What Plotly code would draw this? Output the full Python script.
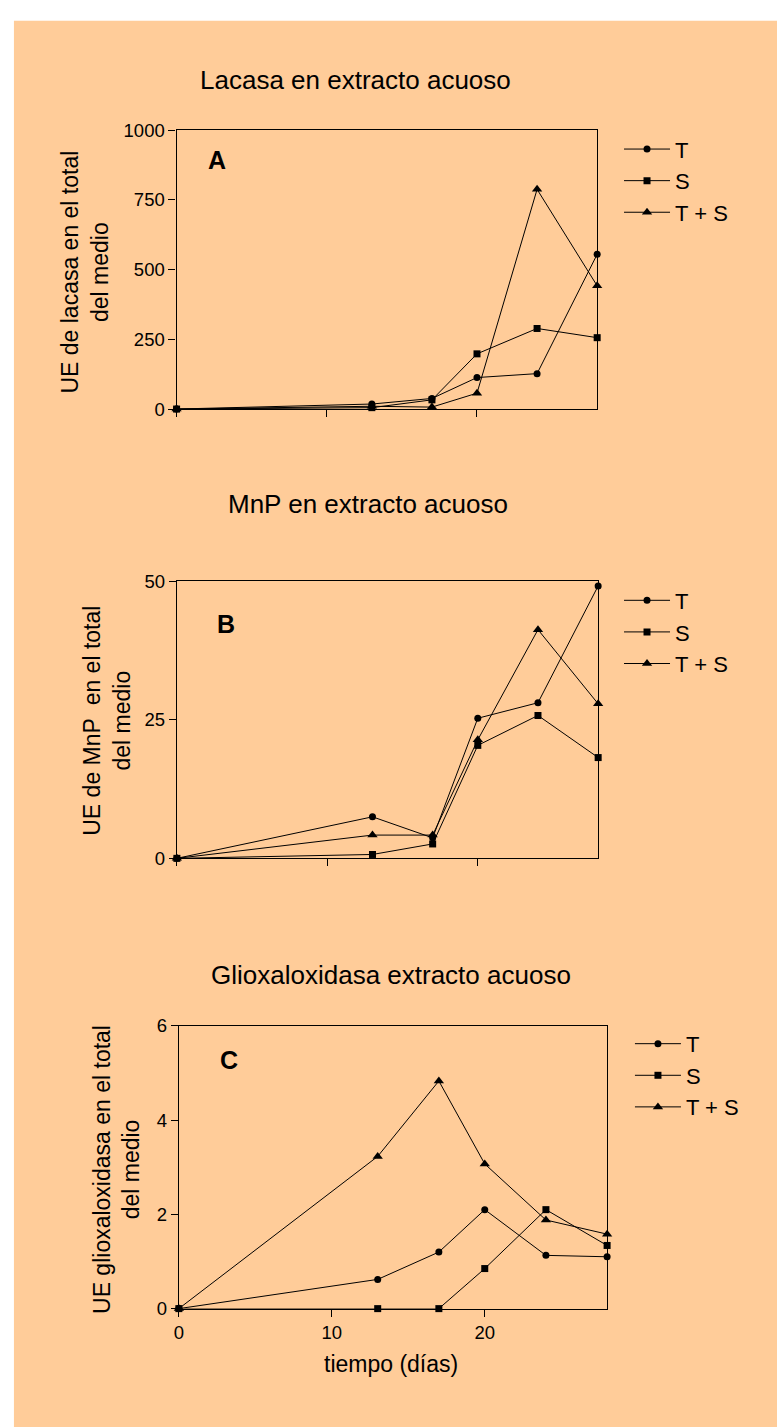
import plotly.graph_objects as go

W, H = 777, 1427
FONT = "Liberation Sans, Arial, sans-serif"
PEACH = "#FFCC99"

# ---------------- data ----------------
days = [0, 13, 17, 20, 24, 28]
x_ticks = [0, 10, 20]

series_names = ["T", "S", "T + S"]

lacasa_T = [0, 18, 38, 113, 127, 555]
lacasa_S = [0, 5, 33, 198, 289, 256]
lacasa_TS = [0, 10, 7, 57, 788, 442]

mnp_T = [0, 7.5, 3.7, 25.3, 28.1, 49.2]
mnp_S = [0, 0.7, 2.6, 20.4, 25.8, 18.2]
mnp_TS = [0, 4.2, 4.2, 21.4, 41.3, 27.9]

glox_T = [0, 0.62, 1.2, 2.1, 1.13, 1.1]
glox_S = [0, 0, 0, 0.85, 2.1, 1.34]
glox_TS = [0, 3.23, 4.83, 3.07, 1.88, 1.58]

lacasa_yticks = [0, 250, 500, 750, 1000]
mnp_yticks = [0, 25, 50]
glox_yticks = [0, 2, 4, 6]

panel_titles = ["Lacasa en extracto acuoso", "MnP en extracto acuoso",
                "Glioxaloxidasa extracto acuoso"]
panel_letters = ["A", "B", "C"]
y_titles = ["UE de lacasa en el total<br>del medio",
            "UE de MnP\u00a0 en el total<br>del medio",
            "UE glioxaloxidasa en el total<br>del medio"]
x_title = "tiempo (días)"


def fx(p):
    return p / W


def fy(p):
    return 1 - p / H


# pixel boxes of the three panels (left, right, top, bottom)
boxes = [(172.7, 596, 121, 404), (173, 597, 579, 860), (175, 606, 1030, 1317)]
yranges = [[0, 1000], [0, 50], [0, 6]]
ytickss = [lacasa_yticks, mnp_yticks, glox_yticks]
data = [[lacasa_T, lacasa_S, lacasa_TS], [mnp_T, mnp_S, mnp_TS], [glox_T, glox_S, glox_TS]]
symbols = [("circle", 7), ("square", 7), ("triangle-up", 9)]

fig = go.Figure()
layout = dict(width=W, height=H, autosize=False,
              margin=dict(l=0, r=0, t=0, b=0),
              paper_bgcolor="white", plot_bgcolor="rgba(0,0,0,0)",
              font=dict(family=FONT, color="black"),
              showlegend=True)

legend_pos = [(618, 119), (618, 577), (629, 1027)]

for i in range(3):
    sfx = "" if i == 0 else str(i + 1)
    l, r, t, b = boxes[i]
    for j, name in enumerate(series_names):
        sym, sz = symbols[j]
        fig.add_trace(go.Scatter(
            x=days, y=data[i][j], name=name, mode="lines+markers",
            line=dict(color="black", width=1),
            marker=dict(symbol=sym, size=sz, color="black"),
            xaxis="x" + sfx, yaxis="y" + sfx,
            legend="legend" + sfx, cliponaxis=False,
            hoverinfo="x+y"))
    common = dict(showline=True, linecolor="black", linewidth=1.3, mirror=True,
                  ticks="outside", ticklen=7, tickwidth=1.3, tickcolor="black",
                  showgrid=False, zeroline=False,
                  tickfont=dict(size=18.5, family=FONT, color="black"))
    layout["xaxis" + sfx] = dict(common, domain=[fx(l), fx(r)], range=[0, 28],
                                 tickvals=x_ticks, showticklabels=(i == 2),
                                 anchor="y" + sfx)
    layout["yaxis" + sfx] = dict(common, domain=[fy(b), fy(t)], range=yranges[i],
                                 tickvals=ytickss[i], anchor="x" + sfx)
    lx, ly = legend_pos[i]
    layout["legend" + sfx] = dict(x=fx(lx), y=fy(ly), xanchor="left", yanchor="top",
                                  bgcolor="rgba(0,0,0,0)", borderwidth=0, itemwidth=46,
                                  font=dict(size=22, family=FONT, color="black"))

title_pos = [(353, 70.5), (365, 500), (388, 978)]
letter_pos = [(213, 151), (222, 622), (225, 1065)]
ytitle_pos = [(81, 265), (103, 720), (112, 1176)]

ann = []
for i in range(3):
    tx, ty = title_pos[i]
    ann.append(dict(text=panel_titles[i], x=fx(tx), y=fy(ty), xref="paper", yref="paper",
                    showarrow=False, xanchor="center", yanchor="middle",
                    font=dict(size=26, family=FONT, color="black")))
    lx, ly = letter_pos[i]
    ann.append(dict(text="<b>" + panel_letters[i] + "</b>", x=fx(lx), y=fy(ly),
                    xref="paper", yref="paper", showarrow=False,
                    xanchor="center", yanchor="middle",
                    font=dict(size=25, family=FONT, color="black")))
    yx, yy = ytitle_pos[i]
    ann.append(dict(text=y_titles[i], x=fx(yx), y=fy(yy), xref="paper", yref="paper",
                    showarrow=False, xanchor="center", yanchor="middle", textangle=-90,
                    font=dict(size=23, family=FONT, color="black")))
ann.append(dict(text=x_title, x=fx(389), y=fy(1373), xref="paper", yref="paper",
                showarrow=False, xanchor="center", yanchor="middle",
                font=dict(size=23, family=FONT, color="black")))
layout["annotations"] = ann
layout["shapes"] = [dict(type="rect", xref="paper", yref="paper",
                         x0=fx(9), x1=1.01, y0=-0.01, y1=fy(10),
                         fillcolor=PEACH, line=dict(width=0), layer="below")]

fig.update_layout(**layout)
fig.write_html("out.html", config={"displayModeBar": False},
               post_script="document.body.style.margin='0';document.body.style.overflow='hidden';")
